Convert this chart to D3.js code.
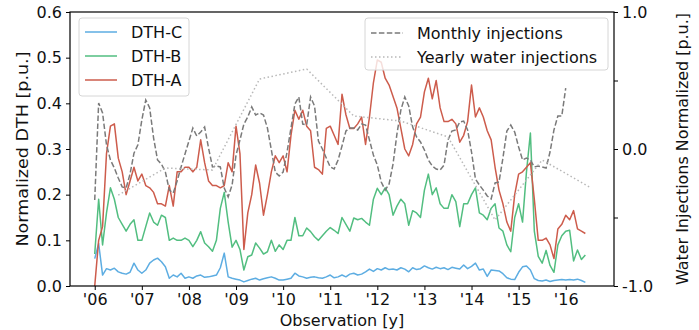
<!DOCTYPE html>
<html><head><meta charset="utf-8">
<script src="https://cdn.jsdelivr.net/npm/d3@7"></script>
<style>body{margin:0;background:#fff}svg{display:block;font-family:"DejaVu Sans",sans-serif}</style>
</head><body><svg id="c" width="699" height="330"></svg>
<script>
const startYear = 2006;
const yearTickLabels = ["'06","'07","'08","'09","'10","'11","'12","'13","'14","'15","'16"];
const yearTicks = [2006,2007,2008,2009,2010,2011,2012,2013,2014,2015,2016];
const leftTicks = [0.0,0.1,0.2,0.3,0.4,0.5,0.6];
const rightTicks = [-1.0,-0.5,0.0,0.5,1.0];
const rightTickLabels = ["-1.0","","0.0","","1.0"];

const dthA = [0.0,0.10,0.13,0.29,0.35,0.355,0.28,0.25,0.20,0.23,0.26,0.23,
0.245,0.22,0.215,0.205,0.18,0.18,0.175,0.22,0.175,0.25,0.25,0.26,
0.26,0.25,0.26,0.32,0.27,0.23,0.22,0.22,0.215,0.22,0.27,0.25,
0.35,0.29,0.08,0.16,0.20,0.265,0.225,0.155,0.20,0.25,0.285,0.27,
0.285,0.25,0.33,0.385,0.365,0.385,0.35,0.34,0.26,0.255,0.245,0.345,
0.35,0.33,0.31,0.42,0.375,0.345,0.345,0.355,0.37,0.31,0.37,0.445,
0.495,0.49,0.455,0.44,0.415,0.39,0.345,0.30,0.285,0.31,0.355,0.37,
0.425,0.455,0.41,0.45,0.39,0.36,0.36,0.365,0.355,0.315,0.33,0.36,
0.44,0.37,0.39,0.37,0.34,0.32,0.26,0.21,0.18,0.14,0.12,0.20,
0.245,0.25,0.26,0.27,0.19,0.10,0.10,0.105,0.09,0.06,0.125,0.135,
0.155,0.145,0.165,0.125,0.12,0.115];

const dthB = [0.07,0.19,0.09,0.16,0.215,0.19,0.15,0.135,0.12,0.135,0.145,0.10,
0.10,0.13,0.16,0.14,0.133,0.155,0.15,0.10,0.105,0.10,0.10,0.105,
0.10,0.086,0.10,0.119,0.094,0.086,0.076,0.10,0.17,0.205,0.14,0.085,
0.10,0.08,0.035,0.064,0.068,0.094,0.083,0.07,0.075,0.10,0.076,0.09,
0.08,0.10,0.10,0.15,0.11,0.11,0.127,0.119,0.108,0.10,0.11,0.12,
0.128,0.122,0.115,0.15,0.135,0.12,0.149,0.145,0.148,0.14,0.133,0.19,
0.214,0.20,0.215,0.20,0.155,0.175,0.19,0.18,0.133,0.165,0.16,0.15,
0.21,0.245,0.20,0.215,0.18,0.17,0.17,0.20,0.185,0.13,0.18,0.18,
0.20,0.215,0.16,0.155,0.145,0.17,0.18,0.127,0.12,0.09,0.075,0.15,
0.18,0.14,0.25,0.335,0.12,0.065,0.05,0.078,0.045,0.03,0.09,0.11,
0.12,0.122,0.055,0.079,0.058,0.068];

const dthC = [0.06,0.093,0.024,0.038,0.035,0.039,0.031,0.028,0.026,0.03,0.05,0.035,
0.028,0.035,0.05,0.057,0.061,0.053,0.042,0.017,0.024,0.02,0.028,0.017,
0.02,0.017,0.022,0.024,0.019,0.02,0.022,0.024,0.04,0.072,0.02,0.017,
0.015,0.013,0.009,0.012,0.015,0.017,0.013,0.016,0.018,0.02,0.017,0.013,
0.013,0.015,0.017,0.028,0.022,0.02,0.017,0.019,0.02,0.018,0.017,0.02,
0.024,0.018,0.02,0.024,0.02,0.026,0.028,0.024,0.026,0.031,0.037,0.032,
0.038,0.035,0.04,0.036,0.037,0.035,0.04,0.037,0.031,0.04,0.036,0.038,
0.044,0.04,0.037,0.041,0.038,0.04,0.036,0.041,0.039,0.037,0.046,0.038,
0.043,0.05,0.035,0.037,0.021,0.035,0.034,0.033,0.027,0.018,0.015,0.014,
0.03,0.042,0.044,0.035,0.016,0.012,0.011,0.013,0.01,0.012,0.013,0.014,
0.013,0.014,0.013,0.015,0.012,0.008];

const monthlyInj = [-0.372,0.336,0.263,0.03,-0.08,-0.139,-0.212,-0.277,-0.285,-0.182,-0.03,0.03,
0.212,0.358,0.30,0.08,-0.08,-0.11,-0.168,-0.30,-0.321,-0.234,-0.131,-0.036,
0.058,0.153,0.095,0.124,0.16,0.007,-0.131,-0.124,-0.131,-0.285,-0.35,-0.263,
-0.044,0.066,0.182,0.234,0.307,0.248,0.263,0.248,0.153,-0.007,-0.168,-0.197,
-0.168,-0.022,0.153,0.328,0.38,0.182,0.175,0.38,0.314,0.058,0.0,-0.066,
-0.131,-0.146,-0.08,0.022,0.131,0.153,0.153,0.139,0.182,0.175,0.066,-0.044,
-0.117,-0.241,-0.30,-0.255,-0.11,0.11,0.285,0.38,0.314,0.16,0.088,0.051,
-0.007,-0.08,-0.124,-0.146,-0.153,-0.117,0.066,0.131,0.139,0.197,0.204,0.139,
-0.022,-0.219,-0.263,-0.30,-0.343,-0.365,-0.248,-0.241,-0.066,0.131,0.175,0.124,
0.015,-0.08,-0.066,-0.08,-0.131,-0.124,-0.131,-0.139,-0.022,0.139,0.241,0.241,
0.445];

const yearlyYears = [2006.5,2007.5,2008.5,2009.5,2010.5,2011.5,2012.5,2013.5,2014.5,2015.5,2016.5];
const yearlyInj = [-0.336,-0.139,-0.153,0.511,0.584,0.241,0.204,0.088,-0.518,-0.08,-0.277];

const colors = {C:"#5dade2", B:"#52be80", A:"#cd5c4c", monthly:"#7a7a7a", yearly:"#b8b8b8"};

const svg = d3.select("#c");
const L=70, R=614, T=12, B=286;
const x = d3.scaleLinear().domain([2005.475, 2017.025]).range([L, R]);
const yL = d3.scaleLinear().domain([0, 0.6]).range([B, T]);
const yR = d3.scaleLinear().domain([-1, 1]).range([B, T]);
const tOf = i => startYear + i/12;

svg.append("defs").append("clipPath").attr("id","clip")
  .append("rect").attr("x",L).attr("y",T).attr("width",R-L).attr("height",B-T);
const plot = svg.append("g").attr("clip-path","url(#clip)");

const lineL = d3.line().x((d,i)=>x(tOf(i))).y(d=>yL(d));
const lineR = d3.line().x((d,i)=>x(tOf(i))).y(d=>yR(d));

[[dthC,colors.C],[dthB,colors.B],[dthA,colors.A]].forEach(([data,c])=>{
  plot.append("path").datum(data).attr("d",lineL).attr("fill","none")
    .attr("stroke",c).attr("stroke-width",1.5).attr("stroke-linejoin","round");
});

function legend(g, x0, y0, w, h, items, textX) {
  g.append("rect").attr("x",x0).attr("y",y0).attr("width",w).attr("height",h)
    .attr("rx",3).attr("fill","white").attr("fill-opacity",0.8).attr("stroke","#d6d6d6").attr("stroke-width",1);
  items.forEach((it)=>{
    const yy = it.y;
    g.append("line").attr("x1",x0+6).attr("x2",x0+38).attr("y1",yy).attr("y2",yy)
      .attr("stroke",it.c).attr("stroke-width",1.5).attr("stroke-dasharray",it.dash||null);
    g.append("text").attr("x",textX).attr("y",yy).attr("dy","0.36em")
      .attr("font-size",16).attr("fill","#111").text(it.label);
  });
}
legend(svg.append("g"), 79, 18, 110, 78, [
  {label:"DTH-C", c:colors.C, y:32},
  {label:"DTH-B", c:colors.B, y:56},
  {label:"DTH-A", c:colors.A, y:80}
], 131);

plot.append("path").datum(monthlyInj).attr("d",lineR).attr("fill","none")
  .attr("stroke",colors.monthly).attr("stroke-width",1.5).attr("stroke-dasharray","5.5,2.4");
plot.append("path").datum(yearlyInj)
  .attr("d", d3.line().x((d,i)=>x(yearlyYears[i])).y(d=>yR(d)))
  .attr("fill","none").attr("stroke",colors.yearly).attr("stroke-width",1.5).attr("stroke-dasharray","1.5,2.5");

legend(svg.append("g"), 365, 18, 243, 52, [
  {label:"Monthly injections", c:colors.monthly, y:33, dash:"5.5,2.4"},
  {label:"Yearly water injections", c:colors.yearly, y:57, dash:"1.5,2.5"}
], 417);

svg.append("rect").attr("x",L).attr("y",T).attr("width",R-L).attr("height",B-T)
  .attr("fill","none").attr("stroke","#000").attr("stroke-width",1.2);

const ax = svg.append("g").attr("transform",`translate(0,${B})`)
  .call(d3.axisBottom(x).tickValues(yearTicks).tickFormat((d,i)=>yearTickLabels[i]).tickSize(4).tickPadding(4));
const ayl = svg.append("g").attr("transform",`translate(${L},0)`)
  .call(d3.axisLeft(yL).tickValues(leftTicks).tickFormat(d3.format(".1f")).tickSize(4).tickPadding(4));
const ayr = svg.append("g").attr("transform",`translate(${R},0)`)
  .call(d3.axisRight(yR).tickValues(rightTicks).tickFormat((d,i)=>rightTickLabels[i]).tickSize(4).tickPadding(4));
[ax,ayl,ayr].forEach(a=>{
  a.select(".domain").remove();
  a.selectAll("text").attr("font-size",16).attr("font-family","DejaVu Sans").attr("fill","#111");
  a.selectAll("line").attr("stroke","#000");
});

svg.append("text").attr("x",(L+R)/2).attr("y",326).attr("text-anchor","middle")
  .attr("font-size",16).attr("fill","#111").text("Observation [y]");
svg.append("text").attr("transform",`translate(28,${(T+B)/2}) rotate(-90)`).attr("text-anchor","middle")
  .attr("font-size",16).attr("textLength",195).attr("lengthAdjust","spacingAndGlyphs")
  .attr("fill","#111").text("Normalized DTH [p.u.]");
svg.append("text").attr("transform",`translate(688,${(T+B)/2}) rotate(-90)`).attr("text-anchor","middle")
  .attr("font-size",16).attr("textLength",272).attr("lengthAdjust","spacingAndGlyphs")
  .attr("fill","#111").text("Water Injections Normalized [p.u.]");
</script></body></html>
